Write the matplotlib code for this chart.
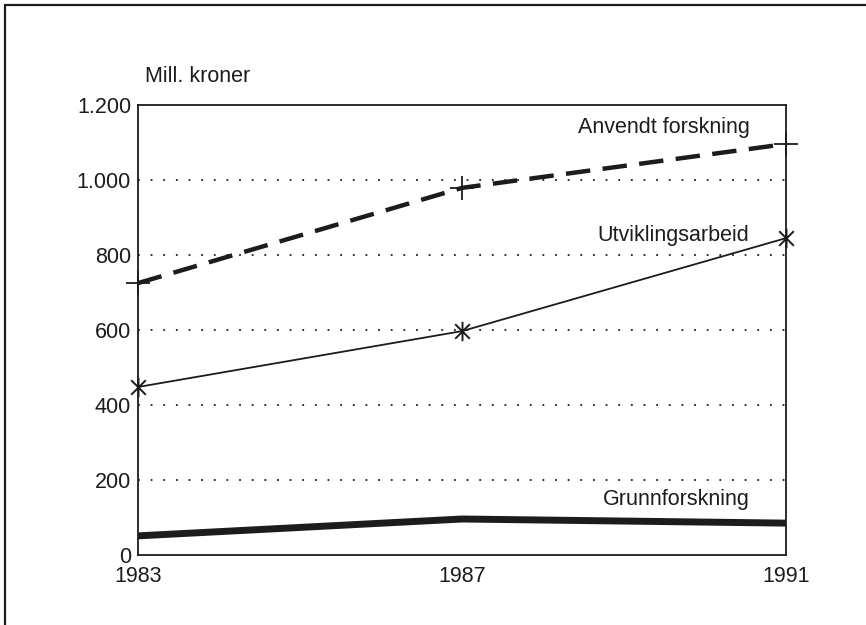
import numpy as np
import matplotlib
matplotlib.use('Agg')
import matplotlib.pyplot as plt
from matplotlib.patches import Rectangle
from matplotlib.path import Path
from matplotlib.ticker import FuncFormatter

# Data (mill. kroner)
years = [1983, 1987, 1991]
anvendt = [725, 979, 1096]
utvikling = [448, 597, 845]
grunn = [51, 96, 85]
y_ticks = [0, 200, 400, 600, 800, 1000, 1200]
x_ticks = [1983, 1987, 1991]

plt.rcParams['font.family'] = ['Liberation Sans', 'DejaVu Sans']
ink = '#1c1c1c'
fs = 15.5

# asterisk marker: vertical bar plus an X
asterisk = Path([(0, -1), (0, 1), (-0.75, -0.75), (0.75, 0.75), (-0.75, 0.75), (0.75, -0.75)],
                [Path.MOVETO, Path.LINETO, Path.MOVETO, Path.LINETO, Path.MOVETO, Path.LINETO])

fig = plt.figure(figsize=(8.66, 6.25), dpi=100)
ax = fig.add_axes([138 / 866, 1 - 555 / 625, 648 / 866, 450 / 625])

# dotted grid lines
for v in y_ticks[1:-1]:
    ax.axhline(v, color=ink, lw=1.3, linestyle=(0, (1, 6)), zorder=1)

# series
ax.plot(years, anvendt, color=ink, lw=3.2, linestyle=(0, (5.5, 2.8)),
        marker='+', markersize=17, markeredgewidth=1.3, clip_on=False, zorder=3)
ax.plot(years, utvikling, color=ink, lw=1.3,
        marker=asterisk, markersize=14, markeredgewidth=1.4, clip_on=False, zorder=3)
ax.plot(years, grunn, color=ink, lw=5, solid_capstyle='butt', clip_on=False, zorder=3)

# series labels
ax.text(1990.55, 1139, 'Anvendt forskning', ha='right', va='center', fontsize=fs, color=ink)
ax.text(1990.55, 851, 'Utviklingsarbeid', ha='right', va='center', fontsize=fs, color=ink)
ax.text(1990.55, 147, 'Grunnforskning', ha='right', va='center', fontsize=fs, color=ink)
ax.text(0.011, 1.064, 'Mill. kroner', transform=ax.transAxes, ha='left', va='center',
        fontsize=fs, color=ink)

ax.set_xlim(1983, 1991)
ax.set_ylim(0, 1200)
ax.set_xticks(x_ticks)
ax.set_yticks(y_ticks)
ax.yaxis.set_major_formatter(FuncFormatter(lambda v, p: '{:,}'.format(int(v)).replace(',', '.')))
ax.tick_params(axis='both', length=0, labelsize=fs, colors=ink)
ax.tick_params(axis='y', pad=5)
ax.tick_params(axis='x', pad=8)
for s in ax.spines.values():
    s.set_linewidth(1.3)
    s.set_color(ink)

# outer frame running off the right and bottom edges
fig.patches.append(Rectangle((5 / 866, -0.1), 1.2, 1.1 - 5 / 625, transform=fig.transFigure,
                             fill=False, lw=1.6, edgecolor=ink))

fig.savefig('out.png', dpi=100)
